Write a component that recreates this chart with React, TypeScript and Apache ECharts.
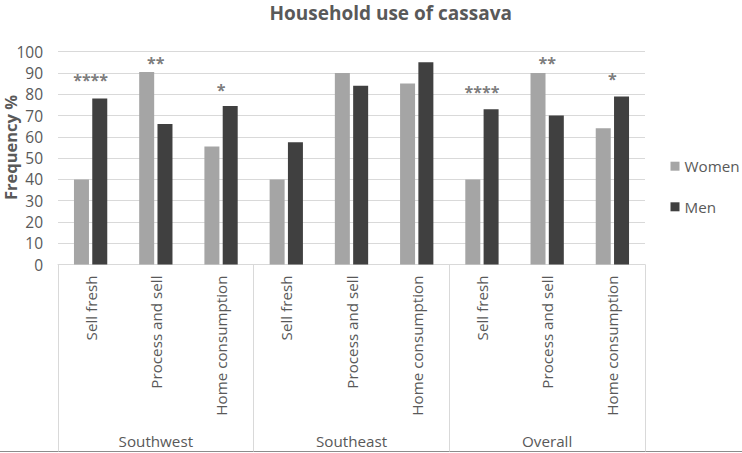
import React, { useEffect, useRef } from 'react';
import * as echarts from 'echarts';

const regions = ['Southwest', 'Southeast', 'Overall'];
const categories = [
  'Sell fresh', 'Process and sell', 'Home consumption',
  'Sell fresh', 'Process and sell', 'Home consumption',
  'Sell fresh', 'Process and sell', 'Home consumption',
];
const women = [40, 90.5, 55.5, 40, 90, 85, 40, 90, 64];
const men = [78, 66, 74.5, 57.5, 84, 95, 73, 70, 79];
const stars = ['****', '**', '*', '', '', '', '****', '**', '*'];
const starHeights = [86.5, 94.5, 82, 0, 0, 0, 81, 94.5, 87];
const yTicks = { min: 0, max: 100, interval: 10 };

const FONT = '"Open Sans", sans-serif';
const TEXT = '#595959';
const GRID = '#d9d9d9';

export default function App() {
  const ref = useRef<HTMLDivElement>(null);
  useEffect(() => {
    if (!ref.current) return;
    const chart = echarts.init(ref.current, undefined, { renderer: 'svg' });
    const starData = stars
      .map((s, i) => (s ? { value: [i, starHeights[i]], star: s } : null))
      .filter(Boolean);
    chart.setOption({
      animation: false,
      backgroundColor: '#ffffff',
      grid: { left: 58, right: 97, top: 51.7, bottom: 188.5, containLabel: false },
      legend: {
        data: ['Women', 'Men'],
        orient: 'vertical',
        left: 670.5,
        top: 158.7,
        padding: 0,
        itemWidth: 9,
        itemHeight: 9,
        itemGap: 25.6,
        icon: 'rect',
        textStyle: { fontFamily: FONT, fontSize: 15.2, color: TEXT },
      },
      xAxis: [
        {
          type: 'category',
          data: categories,
          axisLine: { lineStyle: { color: GRID, width: 1 } },
          axisTick: { show: false },
          axisLabel: {
            rotate: 90,
            interval: 0,
            margin: 11,
            fontFamily: FONT,
            fontSize: 15.2,
            color: TEXT,
          },
        },
        {
          type: 'category',
          data: regions,
          position: 'bottom',
          axisLine: { show: false },
          axisTick: {
            show: true,
            length: 187,
            inside: false,
            lineStyle: { color: GRID, width: 1 },
          },
          axisLabel: {
            margin: 169,
            fontFamily: FONT,
            fontSize: 15.2,
            color: TEXT,
          },
        },
      ],
      yAxis: {
        type: 'value',
        min: yTicks.min,
        max: yTicks.max,
        interval: yTicks.interval,
        axisLine: { show: false },
        axisTick: { show: false },
        splitLine: { lineStyle: { color: GRID, width: 1 } },
        axisLabel: { margin: 15, fontFamily: FONT, fontSize: 15.5, color: TEXT },
      },
      series: [
        {
          name: 'Women',
          type: 'bar',
          data: women,
          barWidth: 15,
          barGap: '22%',
          itemStyle: { color: '#a5a5a5' },
        },
        {
          name: 'Men',
          type: 'bar',
          data: men,
          barWidth: 15,
          barGap: '22%',
          itemStyle: { color: '#404040' },
        },
        {
          name: 'sig',
          type: 'scatter',
          data: starData,
          symbolSize: 1,
          itemStyle: { color: 'rgba(0,0,0,0)' },
          silent: true,
          label: {
            show: true,
            position: 'inside',
            formatter: (p: any) => p.data.star,
            fontFamily: FONT,
            fontWeight: 'bold',
            fontSize: 16,
            color: TEXT,
          },
        },
      ],
      graphic: [
        {
          type: 'text',
          x: 390.7,
          y: 13,
          style: {
            text: 'Household use of cassava',
            fontFamily: FONT,
            fontWeight: 'bold',
            fontSize: 19,
            fill: TEXT,
            textAlign: 'center',
            textVerticalAlign: 'middle',
          },
        },
        {
          type: 'text',
          x: 10.5,
          y: 147.5,
          rotation: Math.PI / 2,
          style: {
            text: 'Frequency %',
            fontFamily: FONT,
            fontWeight: 'bold',
            fontSize: 16.5,
            fill: TEXT,
            textAlign: 'center',
            textVerticalAlign: 'middle',
          },
        },
        {
          type: 'line',
          shape: { x1: 0, y1: 451.5, x2: 742, y2: 451.5 },
          style: { stroke: '#8c8c8c', lineWidth: 1 },
        },
      ],
    });
    return () => chart.dispose();
  }, []);
  return (
    <div
      ref={ref}
      style={{ position: 'fixed', left: 0, top: 0, width: 742, height: 453 }}
    />
  );
}
